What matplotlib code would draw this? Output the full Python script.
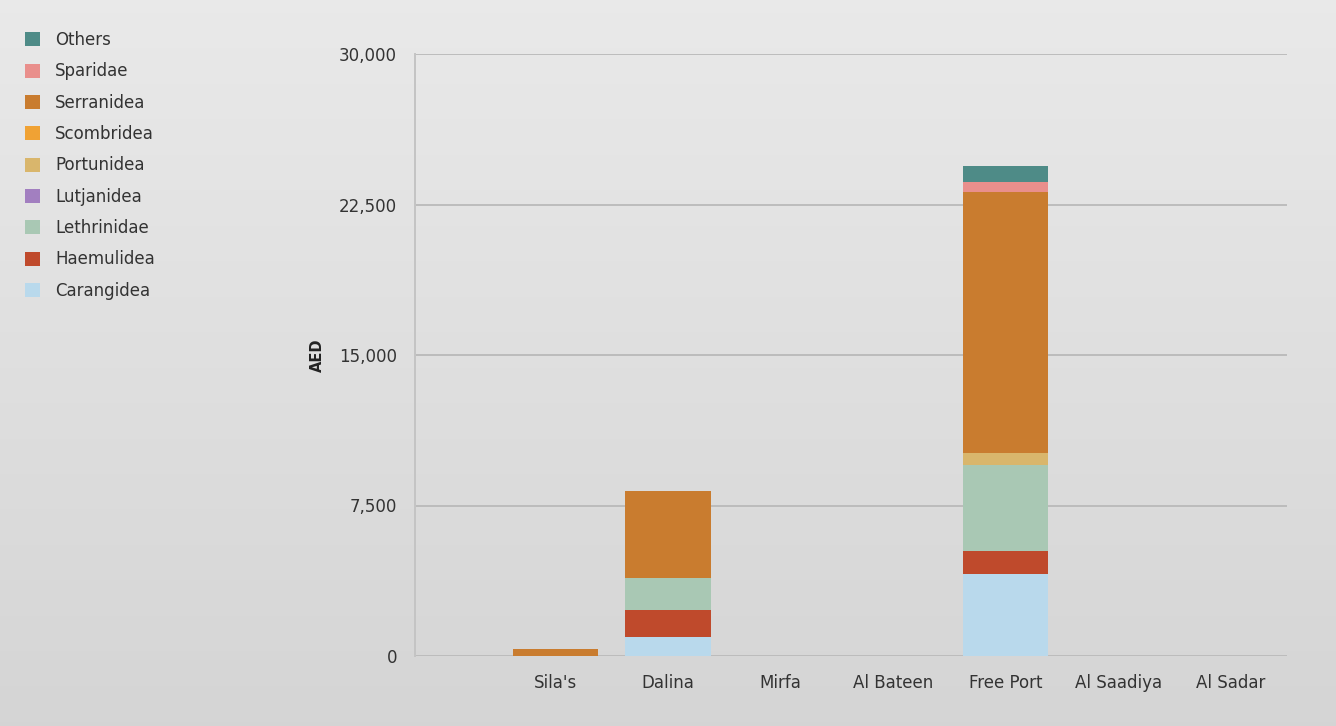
import numpy as np
import matplotlib
matplotlib.use("Agg")
import matplotlib.pyplot as plt
from matplotlib.patches import Patch

plt.rcParams['font.family'] = ['DejaVu Sans']

# Locations along the x axis
locations = ["Sila's", "Dalina", "Mirfa", "Al Bateen", "Free Port", "Al Saadiya", "Al Sadar"]

# Value by family (AED), stacked bottom to top
carangidea  = [0,    950, 0, 0, 4100,  0, 0]
haemulidea  = [0,   1350, 0, 0, 1150,  0, 0]
lethrinidae = [0,   1600, 0, 0, 4250,  0, 0]
lutjanidae  = [0,      0, 0, 0,    0,  0, 0]
portunidae  = [0,      0, 0, 0,  600,  0, 0]
scombridae  = [0,      0, 0, 0,    0,  0, 0]
serranidea  = [350, 4300, 0, 0, 13000, 0, 0]
sparidae    = [0,      0, 0, 0,  500,  0, 0]
others      = [0,      0, 0, 0,  800,  0, 0]

series_names = ["Carangidea", "Haemulidea", "Lethrinidae", "Lutjanidea", "Portunidea",
                "Scombridea", "Serranidea", "Sparidae", "Others"]
series_values = [carangidea, haemulidea, lethrinidae, lutjanidae, portunidae,
                 scombridae, serranidea, sparidae, others]
series_colors = ["#b9d9ec", "#bf4a2c", "#a9c8b4", "#a27fc0", "#d9b66c",
                 "#f0a234", "#c97c2f", "#e98f8c", "#4e8b87"]

y_ticks = [0, 7500, 15000, 22500, 30000]
y_tick_labels = ["0", "7,500", "15,000", "22,500", "30,000"]

W, H = 1336, 726
fig = plt.figure(figsize=(W / 100, H / 100), dpi=100)

# Soft grey gradient behind everything
bg = fig.add_axes([0, 0, 1, 1], zorder=-10)
grad = np.linspace(0, 1, 256).reshape(-1, 1)
top = np.array([0.915, 0.915, 0.915])
bottom = np.array([0.835, 0.835, 0.835])
img = top[None, None, :] * (1 - grad[:, :, None]) + bottom[None, None, :] * grad[:, :, None]
bg.imshow(img, aspect="auto", extent=[0, 1, 0, 1])
bg.axis("off")

left_px, right_px, top_px, bottom_px = 415, 1287, 54, 656
ax = fig.add_axes([left_px / W, 1 - bottom_px / H,
                   (right_px - left_px) / W, (bottom_px - top_px) / H])
ax.set_facecolor("none")

x = np.arange(len(locations))
bottoms = np.zeros(len(locations))
for name, vals, col in zip(series_names, series_values, series_colors):
    vals = np.array(vals, dtype=float)
    ax.bar(x, vals, width=0.76, bottom=bottoms, color=col, edgecolor="none",
           label=name, zorder=3)
    bottoms += vals

ax.set_xlim(-1.25, 6.5)
ax.set_ylim(0, 30000)
ax.set_yticks(y_ticks)
ax.set_yticklabels(y_tick_labels)
ax.set_xticks(x)
ax.set_xticklabels(locations)
ax.tick_params(axis="y", length=0, pad=13, labelsize=12, labelcolor="#333333")
ax.tick_params(axis="x", length=0, pad=13, labelsize=12, labelcolor="#333333")

ax.grid(axis="y", color="#bcbcbc", linewidth=1.4, zorder=0)
for s in ["top", "right", "bottom"]:
    ax.spines[s].set_visible(False)
ax.spines["left"].set_color("#c4c4c4")
ax.spines["left"].set_linewidth(1.4)

ax.set_ylabel("AED", fontsize=10.5, fontweight="bold", color="#222222", labelpad=10)

# Legend listed from top of stack to bottom
handles = [Patch(facecolor=c, edgecolor="none") for c in series_colors][::-1]
labels = series_names[::-1]
fig.legend(handles, labels, loc="upper left", bbox_to_anchor=(10 / W, 1 - 16 / H),
           frameon=False, fontsize=12, handlelength=0.9, handleheight=0.9,
           handletextpad=0.9, labelspacing=0.8, labelcolor="#333333")

fig.savefig("out.png", dpi=100)
